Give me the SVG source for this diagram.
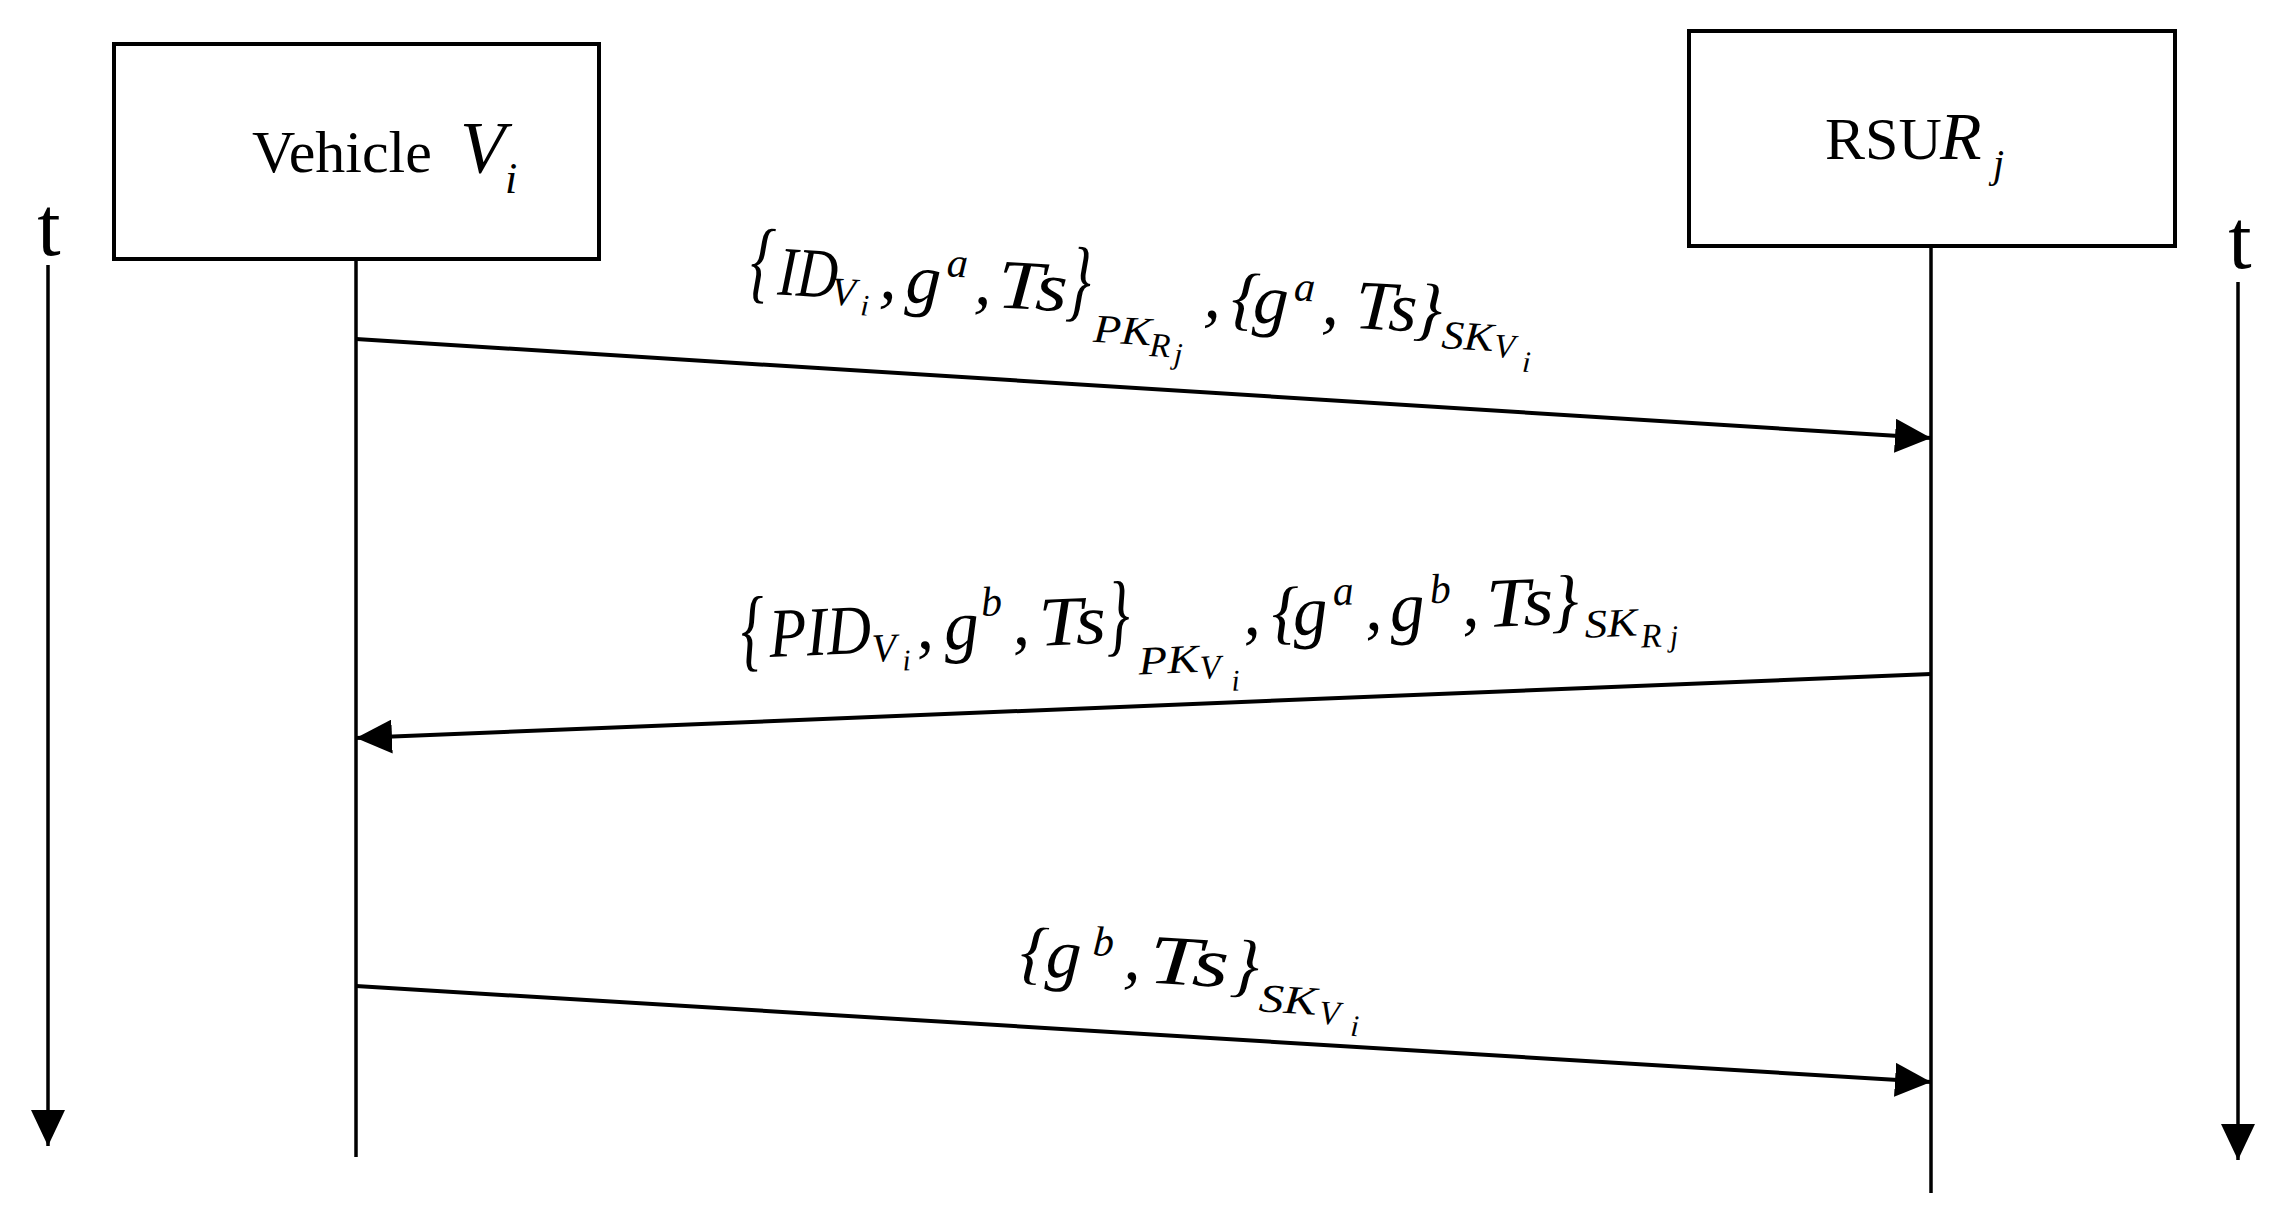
<svg xmlns="http://www.w3.org/2000/svg" width="2278" height="1218" viewBox="0 0 2278 1218">
<defs>
<style>
.box{fill:#fff;stroke:#000;stroke-width:4}
.life{stroke:#000;stroke-width:3.5;fill:none}
.msg{stroke:#000;stroke-width:4;fill:none}
.rm{font-family:"Liberation Serif",serif;fill:#000}
.m{font-family:"Liberation Serif",serif;font-style:italic;fill:#000}
.f64{font-size:70px}
.f36{font-size:40px}
.f28{font-size:34px}
.f22{font-size:30px}
.f38{font-size:42px}
</style>
<marker id="ah" viewBox="0 0 36 34" refX="36" refY="17" markerWidth="36" markerHeight="34" markerUnits="userSpaceOnUse" orient="auto">
<path d="M0,0 L36,17 L0,34 Z" fill="#000"/>
</marker>
</defs>
<rect width="2278" height="1218" fill="#fff"/>

<g id="node-vehicle">
<rect class="box" x="114" y="44" width="485" height="215"/>
<text class="rm" x="252" y="172" font-size="60">Vehicle</text>
<text class="m" x="460" y="173" font-size="74">V</text>
<text class="m" x="505" y="193" font-size="44">i</text>
</g>

<g id="node-rsu">
<rect class="box" x="1689" y="31" width="486" height="215"/>
<text class="rm" x="1825" y="159" font-size="60">RSU</text>
<text class="m" x="1940" y="159" font-size="68">R</text>
<text class="m" x="1993" y="177" font-size="40">j</text>
</g>

<g id="time-axes">
<text class="rm" x="49" y="255" font-size="84" text-anchor="middle">t</text>
<line class="life" x1="48" y1="265" x2="48" y2="1146" marker-end="url(#ah)"/>
<text class="rm" x="2240" y="268" font-size="84" text-anchor="middle">t</text>
<line class="life" x1="2238" y1="282" x2="2238" y2="1160" marker-end="url(#ah)"/>
</g>

<g id="connectors">
<line class="life" x1="356" y1="259" x2="356" y2="1157"/>
<line class="life" x1="1931" y1="246" x2="1931" y2="1193"/>
<line class="msg" x1="356" y1="339" x2="1931" y2="438" marker-end="url(#ah)"/>
<line class="msg" x1="1931" y1="674" x2="356" y2="738" marker-end="url(#ah)"/>
<line class="msg" x1="356" y1="986" x2="1931" y2="1082" marker-end="url(#ah)"/>
</g>

<g id="label-1" transform="translate(752,293) rotate(3.32)">
<text class="m f64" transform="translate(-3,-2) scale(0.85,1.3)">{</text>
<text class="m f64" x="25" y="0" textLength="60" lengthAdjust="spacingAndGlyphs">ID</text>
<text class="m f36" x="79" y="7">V</text>
<text class="m f22" x="109" y="16">i</text>
<text class="m f64" x="127" y="-2">,</text>
<text class="m f64" x="153" y="0">g</text>
<text class="m f38" x="193" y="-28">a</text>
<text class="m f64" x="222" y="-2">,</text>
<text class="m f64" x="245" y="0" textLength="70" lengthAdjust="spacingAndGlyphs">Ts</text>
<text class="m f64" transform="translate(314,-2) scale(0.85,1.3)">}</text>
<text class="m f36" x="343" y="29" textLength="58" lengthAdjust="spacingAndGlyphs">PK</text>
<text class="m f28" x="400" y="40">R</text>
<text class="m f22" x="425" y="46">j</text>
<text class="m f64" x="452" y="-2">,</text>
<text class="m f64" x="479" y="0">{</text>
<text class="m f64" x="501" y="0">g</text>
<text class="m f38" x="541" y="-24">a</text>
<text class="m f64" x="570" y="-2">,</text>
<text class="m f64" x="603" y="0" textLength="62" lengthAdjust="spacingAndGlyphs">Ts</text>
<text class="m f64" x="662" y="0">}</text>
<text class="m f36" x="691" y="15" textLength="52" lengthAdjust="spacingAndGlyphs">SK</text>
<text class="m f28" x="744" y="21">V</text>
<text class="m f22" x="773" y="34">i</text>
</g>

<g id="label-2" transform="translate(745,658) rotate(-2.4)">
<text class="m f64" transform="translate(-3,2) scale(0.85,1.3)">{</text>
<text class="m f64" x="25" y="0" textLength="102" lengthAdjust="spacingAndGlyphs">PID</text>
<text class="m f36" x="127" y="9">V</text>
<text class="m f22" x="157" y="19">i</text>
<text class="m f64" x="172" y="-2">,</text>
<text class="m f64" x="200" y="0">g</text>
<text class="m f38" x="238" y="-32">b</text>
<text class="m f64" x="268" y="-2">,</text>
<text class="m f64" x="295" y="0" textLength="67" lengthAdjust="spacingAndGlyphs">Ts</text>
<text class="m f64" transform="translate(362,2) scale(0.85,1.3)">}</text>
<text class="m f36" x="393" y="33" textLength="60" lengthAdjust="spacingAndGlyphs">PK</text>
<text class="m f28" x="454" y="40">V</text>
<text class="m f22" x="485" y="53">i</text>
<text class="m f64" x="499" y="-2">,</text>
<text class="m f64" x="528" y="0">{</text>
<text class="m f64" x="549" y="0">g</text>
<text class="m f38" x="590" y="-28">a</text>
<text class="m f64" x="621" y="-2">,</text>
<text class="m f64" x="646" y="0">g</text>
<text class="m f38" x="687" y="-26">b</text>
<text class="m f64" x="718" y="-2">,</text>
<text class="m f64" x="743" y="0" textLength="67" lengthAdjust="spacingAndGlyphs">Ts</text>
<text class="m f64" x="807" y="0">}</text>
<text class="m f36" x="840" y="15" textLength="53" lengthAdjust="spacingAndGlyphs">SK</text>
<text class="m f28" x="896" y="27">R</text>
<text class="m f22" x="925" y="27">j</text>
</g>

<g id="label-3" transform="translate(1023,975) rotate(3.43)">
<text class="m f64" x="-4" y="0">{</text>
<text class="m f64" x="22" y="0">g</text>
<text class="m f38" x="68" y="-24">b</text>
<text class="m f64" x="100" y="-2">,</text>
<text class="m f64" x="125" y="0" textLength="80" lengthAdjust="spacingAndGlyphs">Ts</text>
<text class="m f64" x="207" y="0">}</text>
<text class="m f36" x="237" y="22" textLength="58" lengthAdjust="spacingAndGlyphs">SK</text>
<text class="m f28" x="298" y="31">V</text>
<text class="m f22" x="330" y="41">i</text>
</g>
</svg>
